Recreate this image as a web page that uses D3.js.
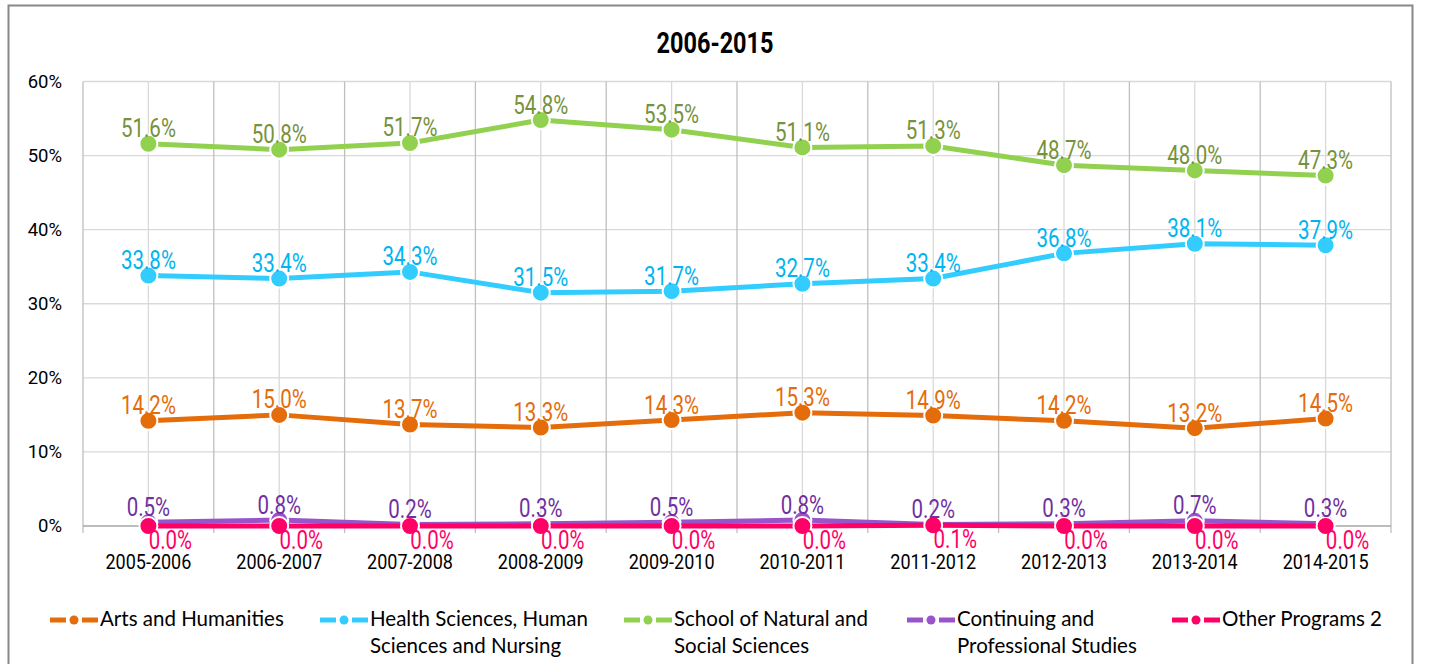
<!DOCTYPE html>
<html><head><meta charset="utf-8">
<script src="https://cdn.jsdelivr.net/npm/d3@7"></script>
<style>
body{margin:0;background:#fff;}
svg{display:block;}
</style></head>
<body><svg id="c" width="1429" height="664"></svg>
<script>
const categories = ["2005-2006","2006-2007","2007-2008","2008-2009","2009-2010","2010-2011","2011-2012","2012-2013","2013-2014","2014-2015"];
const seriesNames = ["Arts and Humanities","Health Sciences, Human Sciences and Nursing","School of Natural and Social Sciences","Continuing and Professional Studies","Other Programs 2"];
const arts = [14.2,15.0,13.7,13.3,14.3,15.3,14.9,14.2,13.2,14.5];
const health = [33.8,33.4,34.3,31.5,31.7,32.7,33.4,36.8,38.1,37.9];
const natural = [51.6,50.8,51.7,54.8,53.5,51.1,51.3,48.7,48.0,47.3];
const continuing = [0.5,0.8,0.2,0.3,0.5,0.8,0.2,0.3,0.7,0.3];
const other = [0.0,0.0,0.0,0.0,0.0,0.0,0.1,0.0,0.0,0.0];
const yTicks = [0,10,20,30,40,50,60];
const title = "2006-2015";

const lineColors = ["#E46C0A","#33CCFF","#92D050","#9954CC","#FF0066"];
const labelColors = ["#E46C0A","#00B4F0","#76923C","#7030A0","#FF0066"];
const legendLines = [["Arts and Humanities"],["Health Sciences, Human","Sciences and Nursing"],["School of Natural and","Social Sciences"],["Continuing and","Professional Studies"],["Other Programs 2"]];
const legendX = [50,320,624,907,1172];

const values = [arts, health, natural, continuing, other];
const cond = "Roboto,'Liberation Sans',sans-serif";
const svg = d3.select("#c");

function ntext(parent, x, y, txt, opts){
  const t = parent.append("text")
    .attr("transform",`translate(${x},${y}) scale(${opts.sx||1},1)`)
    .attr("text-anchor",opts.anchor||"middle")
    .attr("font-family",cond).attr("font-size",opts.size)
    .attr("font-weight",opts.weight||"normal")
    .attr("fill",opts.fill||"#000").text(txt);
  if(opts.dy) t.attr("dy",opts.dy);
  return t;
}

// outer border
svg.append("rect").attr("x",8.5).attr("y",5.5).attr("width",1404).attr("height",670)
  .attr("fill","none").attr("stroke","#888").attr("stroke-width",2);

const L=83, R=1391, T=81.5, B=526;
const x = d3.scaleBand().domain(categories).range([L,R]).paddingInner(0).paddingOuter(0);
const y = d3.scaleLinear().domain([0,60]).range([B,T]);
const cx = c => x(c)+x.bandwidth()/2;

// title
ntext(svg, 715, 53, title, {size:29, weight:"bold", sx:0.81});

// grid
const g = svg.append("g");
yTicks.filter(t=>t>0).forEach(t=>{
  g.append("line").attr("x1",L).attr("x2",R).attr("y1",y(t)).attr("y2",y(t)).attr("stroke","#D9D9D9").attr("stroke-width",1.3);
});
const vlines = [];
categories.forEach(c=>{ vlines.push({x:x(c),b:true}); vlines.push({x:cx(c),b:false}); });
vlines.push({x:R,b:true});
vlines.forEach(v=>{
  g.append("line").attr("x1",v.x).attr("x2",v.x).attr("y1",T).attr("y2",v.b?B+7:B).attr("stroke", v.b?"#BFBFBF":"#D9D9D9").attr("stroke-width",1.3);
});
g.append("line").attr("x1",L).attr("x2",R).attr("y1",B).attr("y2",B).attr("stroke","#A6A6A6").attr("stroke-width",1.5);

// y axis labels
const ya = svg.append("g");
yTicks.forEach(t=>{
  ntext(ya, 62, y(t), t+"%", {size:18.5, anchor:"end", dy:"0.35em"});
});

// x axis labels
const xa = svg.append("g");
categories.forEach(c=>{
  ntext(xa, cx(c), 569, c, {size:20, sx:0.9});
});

// series
const line = d3.line().x((d,i)=>cx(categories[i])).y(d=>y(d)).curve(d3.curveLinear);
values.forEach((vals,s)=>{
  const sg = svg.append("g");
  sg.append("path").datum(vals).attr("d",line).attr("fill","none").attr("stroke",lineColors[s])
    .attr("stroke-width",5).attr("stroke-linejoin","round");
  sg.selectAll("circle").data(vals).join("circle")
    .attr("cx",(d,i)=>cx(categories[i])).attr("cy",d=>y(d)).attr("r",9)
    .attr("fill",lineColors[s]).attr("stroke","#fff").attr("stroke-width",2);
});
// labels
values.forEach((vals,s)=>{
  const lg = svg.append("g");
  vals.forEach((d,i)=>{
    const px = cx(categories[i]) + (s===4?22:0);
    const py = s===4 ? y(d)+23 : y(d)-6.5;
    ntext(lg, px, py, d.toFixed(1)+"%", {size:25, sx:0.82, fill:labelColors[s]});
  });
});

// legend
legendLines.forEach((lines,s)=>{
  const lg = svg.append("g").attr("transform",`translate(${legendX[s]},0)`);
  const ly = 620;
  lg.append("line").attr("x1",0).attr("x2",16).attr("y1",ly).attr("y2",ly).attr("stroke",lineColors[s]).attr("stroke-width",5);
  lg.append("line").attr("x1",32).attr("x2",48).attr("y1",ly).attr("y2",ly).attr("stroke",lineColors[s]).attr("stroke-width",5);
  lg.append("circle").attr("cx",24).attr("cy",ly).attr("r",4.5).attr("fill",lineColors[s]);
  lines.forEach((t,k)=>{
    lg.append("text").attr("x",50).attr("y",626+k*27).attr("font-family","Lato,'Open Sans',sans-serif")
      .attr("font-size",20.5).attr("fill","#000").text(t);
  });
});
</script></body></html>
